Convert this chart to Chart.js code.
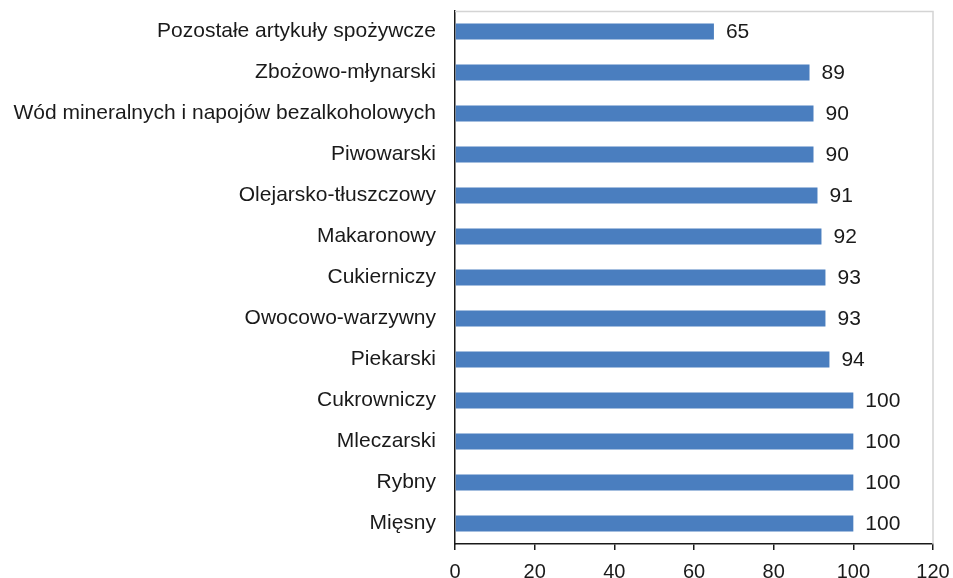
<!DOCTYPE html>
<html><head><meta charset="utf-8">
<script src="https://cdn.jsdelivr.net/npm/chart.js@4"></script>
<style>html,body{margin:0;padding:0;background:#fff}#w{width:953px;height:578px}</style>
</head><body><div id="w"><canvas id="c"></canvas></div>
<script>
const categories = ["Pozostałe artykuły spożywcze","Zbożowo-młynarski","Wód mineralnych i napojów bezalkoholowych","Piwowarski","Olejarsko-tłuszczowy","Makaronowy","Cukierniczy","Owocowo-warzywny","Piekarski","Cukrowniczy","Mleczarski","Rybny","Mięsny"];
const values = [65,89,90,90,91,92,93,93,94,100,100,100,100];
const xTicks = [0,20,40,60,80,100,120];

const FONT = "'Liberation Sans', Arial, sans-serif";
const TXT = "#1a1a1a";
const FS = 21;

const extras = {
  id: 'extras',
  afterDatasetsDraw(chart) {
    const ctx = chart.ctx, a = chart.chartArea;
    ctx.save();
    ctx.strokeStyle = '#d4d4d4'; ctx.lineWidth = 1.5;
    ctx.beginPath();
    ctx.moveTo(a.left, a.top + 0.5); ctx.lineTo(a.right, a.top + 0.5);
    ctx.lineTo(a.right, a.bottom);
    ctx.stroke();
    const meta = chart.getDatasetMeta(0);
    ctx.fillStyle = TXT; ctx.font = FS + "px " + FONT;
    ctx.textBaseline = 'middle'; ctx.textAlign = 'left';
    meta.data.forEach((b, i) => {
      ctx.fillText(String(values[i]), b.x + 12, b.y + 1);
    });
    ctx.restore();
  }
};

new Chart(document.getElementById('c'), {
  type: 'bar',
  data: { labels: categories, datasets: [{ data: values, backgroundColor: '#4a7ebf', borderWidth: 0, barPercentage: 0.8, categoryPercentage: 0.49 }] },
  options: {
    indexAxis: 'y', responsive: true, maintainAspectRatio: false, animation: false,
    layout: { padding: { top: 11, right: 20, bottom: 0, left: 0 } },
    plugins: { legend: { display: false }, tooltip: { enabled: false } },
    scales: {
      x: {
        min: 0, max: 120,
        afterBuildTicks: s => { s.ticks = xTicks.map(v => ({ value: v })); },
        afterFit: s => { s.height = 34; s.paddingLeft = 0; s.paddingRight = 0; },
        grid: { drawOnChartArea: false, drawTicks: true, tickLength: 6, color: TXT, lineWidth: 1.5 },
        border: { color: TXT, width: 1.5 },
        ticks: { color: TXT, font: { size: 20, family: FONT }, padding: 10, maxRotation: 0 }
      },
      y: {
        afterFit: s => { s.width = 455; s.paddingTop = 0; s.paddingBottom = 0; },
        grid: { display: false, drawTicks: false },
        border: { color: TXT, width: 1.5 },
        ticks: { color: TXT, font: { size: FS, family: FONT }, padding: 19 }
      }
    }
  },
  plugins: [extras]
});
</script></body></html>
